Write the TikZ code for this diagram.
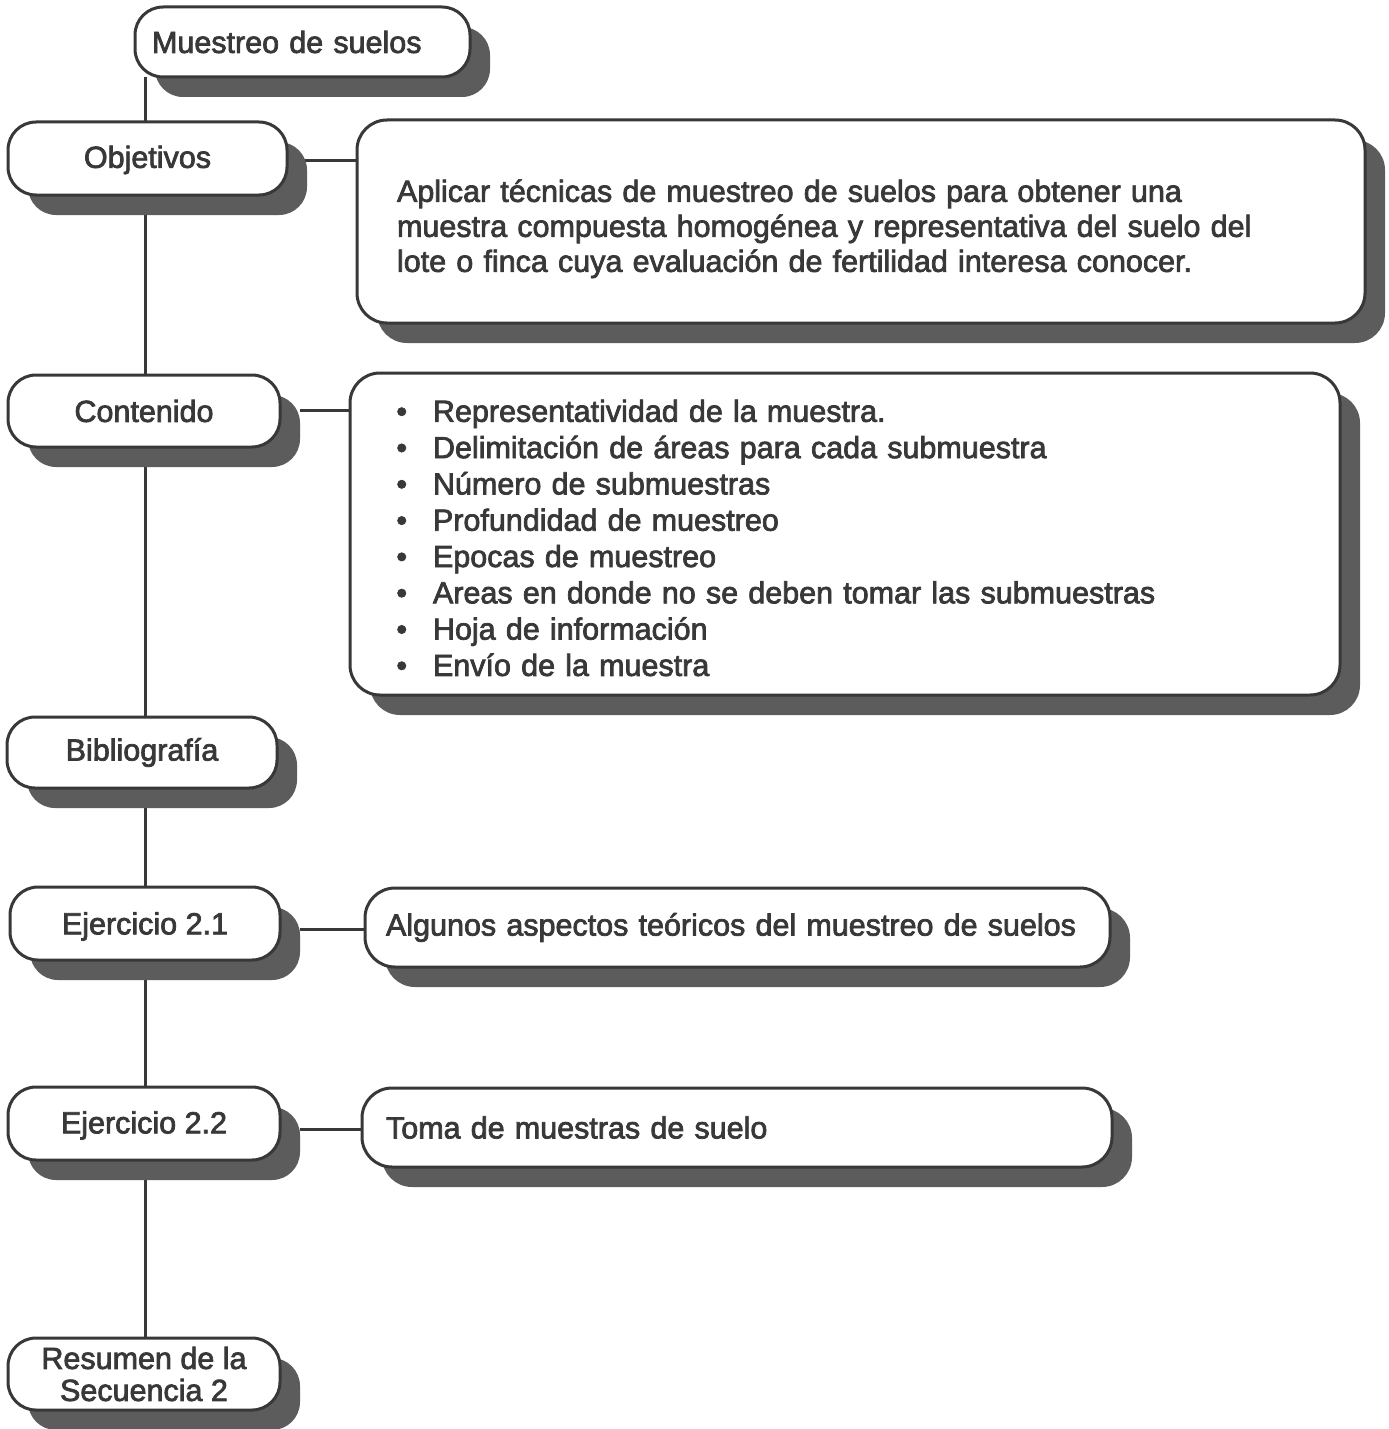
\documentclass[tikz,border=0pt]{standalone}
\usepackage{fontspec}
\setmainfont{Liberation Sans}[FakeBold=2.4]
\usetikzlibrary{shadows}
\definecolor{ink}{gray}{0.22}
\definecolor{shade}{gray}{0.36}
\newcommand{\fs}{\fontsize{15.25pt}{17.5pt}\selectfont}
\newcommand{\bul}{\makebox[19.5pt][l]{\hspace{1.2pt}\textbullet}}
\begin{document}
\begin{tikzpicture}[x=0.5pt,y=-0.5pt,
  box/.style={draw=ink, line width=1.5pt, fill=white, rounded corners=14pt,
    text=ink, font=\fs, inner sep=0pt,
    drop shadow={shadow xshift=10pt, shadow yshift=-10pt, opacity=1, fill=shade}},
  side/.style={box, align=center},
  big/.style={box, rounded corners=15pt, align=left},
  conn/.style={draw=ink, line width=1.5pt}]
\useasboundingbox[fill=white] (0,0) rectangle (1388,1429);

\coordinate (st) at (145,77);
\coordinate (sb) at (145,1338);
\draw[conn] (st) -- (sb);
\coordinate (c1) at (300,160);
\coordinate (c3) at (300,410);
\coordinate (c6) at (300,929);
\coordinate (c8) at (300,1129);

\draw[conn] (c1) -- (360,160) coordinate (e1);
\draw[conn] (c3) -- (352,410) coordinate (e3);
\draw[conn] (c6) -- (367,929) coordinate (e6);
\draw[conn] (c8) -- (364,1129) coordinate (e8);

\node[box, align=left, text width=150.5pt, inner xsep=8.5pt, minimum height=35pt] (b0) at (302.5,42) {Muestreo de suelos};
\node[side, minimum width=139.5pt, minimum height=36.5pt] (b1) at (147.5,158.5) {\rule{0pt}{12.5pt}Objetivos};
\node[side, minimum width=136pt, minimum height=36pt] (b3) at (144,411) {Contenido};
\node[side, minimum width=135pt, minimum height=35.5pt] (b5) at (142,752.5) {Bibliografía};
\node[side, minimum width=135pt, minimum height=36.5pt] (b6) at (145,923.5) {\rule{0pt}{14pt}Ejercicio 2.1};
\node[side, minimum width=136pt, minimum height=36.5pt] (b8) at (144,1123.5) {\rule{0pt}{13pt}Ejercicio 2.2};
\node[side, minimum width=136pt, minimum height=36pt, font=\fontsize{15.25pt}{16pt}\selectfont] (b10) at (144,1374) {Resumen de la\\Secuencia 2};

\node[big, text width=464pt, inner xsep=20pt, minimum height=101.5pt] (b2) at (861,221.5)
  {\rule{0pt}{18.5pt}Aplicar técnicas de muestreo de suelos para obtener una\\
   muestra compuesta homogénea y representativa del suelo del\\
   lote o finca cuya evaluación de fertilidad interesa conocer.};
\node[big, text width=451pt, inner xsep=22pt, minimum height=161pt, font=\fontsize{15.25pt}{18.15pt}\selectfont] (b4) at (845,534)
  {\rule{0pt}{15pt}\bul Representatividad de la muestra.\\
   \bul Delimitación de áreas para cada submuestra\\
   \bul Número de submuestras\\
   \bul Profundidad de muestreo\\
   \bul Epocas de muestreo\\
   \bul Areas en donde no se deben tomar las submuestras\\
   \bul Hoja de información\\
   \bul Envío de la muestra};
\node[big, text width=351.5pt, inner xsep=10.5pt, minimum height=39.5pt] (b7) at (737.5,927.5)
  {Algunos aspectos teóricos del muestreo de suelos};
\node[big, text width=351pt, inner xsep=12pt, minimum height=39.5pt] (b9) at (737,1127.5)
  {Toma de muestras de suelo};
\end{tikzpicture}
\end{document}
